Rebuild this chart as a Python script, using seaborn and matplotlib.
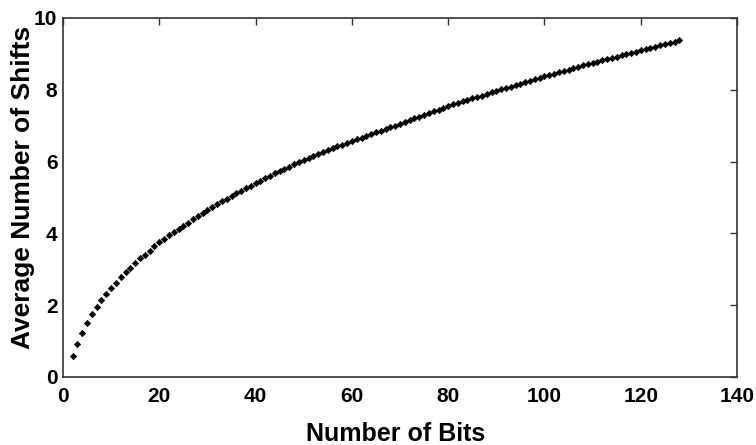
import matplotlib
matplotlib.use('Agg')
import matplotlib.pyplot as plt
import seaborn as sns
import pandas as pd

# ============================================================================
# DATA
# ============================================================================
bits = list(range(2, 129))
avg_shifts = [
    0.57, 0.92, 1.23, 1.50, 1.74, 1.94, 2.14, 2.31, 2.48, 2.63,   # 2-11
    2.79, 2.92, 3.04, 3.17, 3.30, 3.41, 3.52, 3.65, 3.76, 3.85,   # 12-21
    3.95, 4.04, 4.13, 4.21, 4.30, 4.40, 4.49, 4.57, 4.65, 4.73,   # 22-31
    4.81, 4.89, 4.97, 5.04, 5.12, 5.19, 5.26, 5.33, 5.40, 5.47,   # 32-41
    5.54, 5.60, 5.67, 5.73, 5.80, 5.86, 5.92, 5.98, 6.04, 6.10,   # 42-51
    6.16, 6.22, 6.27, 6.32, 6.37, 6.42, 6.47, 6.52, 6.57, 6.62,   # 52-61
    6.66, 6.71, 6.76, 6.81, 6.85, 6.90, 6.95, 7.00, 7.05, 7.10,   # 62-71
    7.15, 7.20, 7.25, 7.30, 7.35, 7.40, 7.45, 7.50, 7.55, 7.59,   # 72-81
    7.64, 7.68, 7.72, 7.76, 7.80, 7.84, 7.88, 7.93, 7.97, 8.01,   # 82-91
    8.05, 8.09, 8.13, 8.17, 8.21, 8.25, 8.29, 8.33, 8.37, 8.41,   # 92-101
    8.45, 8.49, 8.52, 8.56, 8.60, 8.64, 8.68, 8.71, 8.75, 8.78,   # 102-111
    8.82, 8.85, 8.89, 8.92, 8.96, 8.99, 9.03, 9.06, 9.10, 9.13,   # 112-121
    9.17, 9.20, 9.24, 9.27, 9.31, 9.34, 9.38,                     # 122-128
]
x_ticks = [0, 20, 40, 60, 80, 100, 120, 140]
y_ticks = [0, 2, 4, 6, 8, 10]

# ============================================================================
# STYLE
# ============================================================================
sns.set_style('white')
plt.rcParams['font.family'] = ['Liberation Sans', 'DejaVu Sans']
plt.rcParams['text.color'] = 'black'
plt.rcParams['axes.labelcolor'] = 'black'
plt.rcParams['xtick.labelcolor'] = 'black'
plt.rcParams['ytick.labelcolor'] = 'black'
TICK_SIZE, XLABEL_SIZE, YLABEL_SIZE = 15, 18, 19

df = pd.DataFrame({'bits': bits, 'shifts': avg_shifts})

fig = plt.figure(figsize=(7.56, 4.45), dpi=100)
ax = fig.add_axes([0.0833, 0.153, 0.8917, 0.8066])

sns.scatterplot(data=df, x='bits', y='shifts', ax=ax, color='black',
                marker='D', s=11, linewidth=0.4, edgecolor='black')

ax.set_xlim(0, 140)
ax.set_ylim(0, 10)
ax.set_xticks(x_ticks)
ax.set_yticks(y_ticks)
ax.tick_params(direction='in', length=5, width=1, color='#333333',
               top=True, right=True, labelsize=TICK_SIZE, labelcolor='black')
ax.tick_params(axis='x', pad=7)
ax.tick_params(axis='y', pad=4)
for lab in ax.get_xticklabels() + ax.get_yticklabels():
    lab.set_fontweight('bold')
for sp in ax.spines.values():
    sp.set_linewidth(1.2)
    sp.set_color('#333333')

ax.set_xlabel('Number of Bits', fontsize=XLABEL_SIZE, fontweight='bold', color='black')
ax.set_ylabel('Average Number of Shifts', fontsize=YLABEL_SIZE, fontweight='bold', color='black')
ax.yaxis.set_label_coords(-0.042, 0.528)
ax.xaxis.set_label_coords(0.493, -0.127)

plt.savefig('out.png', dpi=100, facecolor='white')
plt.close()
